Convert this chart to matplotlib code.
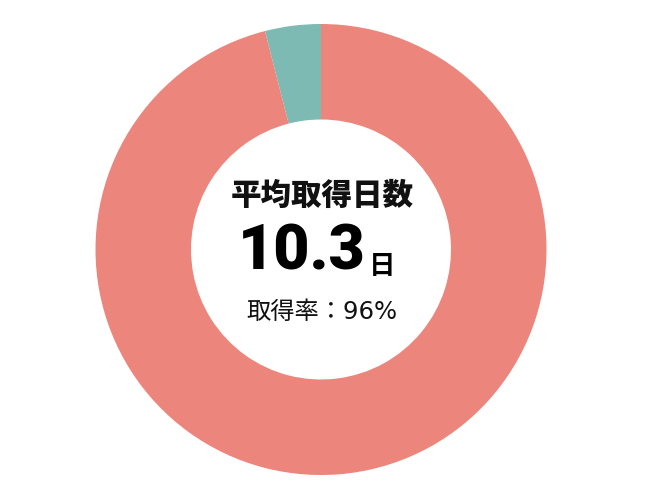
import matplotlib
matplotlib.use("Agg")
import matplotlib.pyplot as plt

# data
labels = ["未取得", "取得"]
rates = [4, 96]
colors = ["#7CBAB3", "#EC857B"]
title_text = "平均取得日数"
days_value = "10.3"
days_unit = "日"
rate_text = "取得率：96%"

plt.rcParams["font.family"] = ["Noto Sans CJK JP", "DejaVu Sans"]

fig = plt.figure(figsize=(6.5, 5), dpi=100)
ax = fig.add_axes([0, 0, 1, 1])

cx, cy = 321, 249.5
r_out, r_in = 225.5, 130

# y axis gets flipped below, so direction is mirrored on screen
ax.pie(rates, colors=colors, startangle=-90, counterclock=False,
       center=(cx, cy), radius=r_out, frame=True,
       wedgeprops=dict(width=r_out - r_in, linewidth=0))
ax.set_xlim(0, 650)
ax.set_ylim(500, 0)
ax.set_aspect("equal")
ax.axis("off")

ax.text(cx + 1, 195, title_text, ha="center", va="center",
        fontsize=22, fontweight="heavy", color="#111111")
ax.text(302, 252, days_value, ha="center", va="center", fontsize=45,
        fontweight="heavy", color="#000000",
        family=["Roboto", "DejaVu Sans"])
ax.text(382, 266, days_unit, ha="center", va="center",
        fontsize=19, fontweight="bold", color="#000000")
ax.text(cx + 1, 312, rate_text, ha="center", va="center",
        fontsize=17.5, color="#111111",
        family=["DejaVu Sans", "Noto Sans CJK JP"])

fig.savefig("out.png", dpi=100)
